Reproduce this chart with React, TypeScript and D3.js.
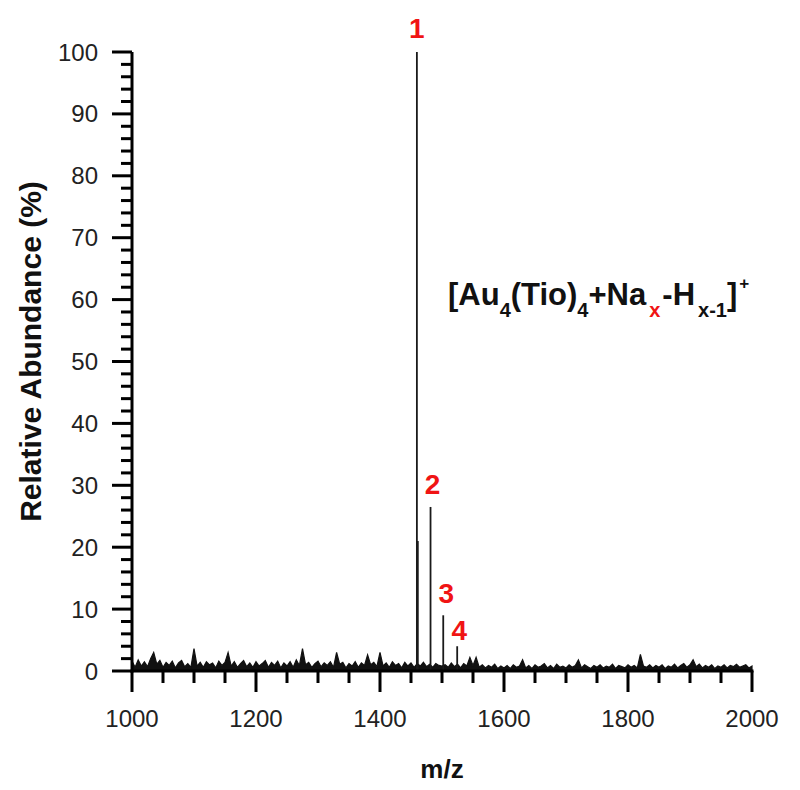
import React from 'react';
import * as d3 from 'd3';

const width = 800;
const height = 790;

// baseline noise, read every 5 m/z from 1000 to 2000
const noiseStart = 1000;
const noiseStep = 5;
const noise = [
  1.6, 0.6, 1.8, 0.8, 1.5, 0.7, 2.0, 3.0, 1.1, 1.7,
  0.6, 1.4, 0.9, 1.6, 0.5, 1.3, 1.7, 0.7, 1.2, 0.6,
  3.6, 0.8, 1.4, 0.6, 1.5, 1.0, 1.3, 0.5, 1.6, 0.9,
  1.4, 3.0, 0.8, 1.5, 0.6, 1.2, 1.7, 0.7, 1.3, 0.6,
  1.5, 0.8, 1.2, 1.7, 0.6, 1.4, 0.9, 1.6, 0.5, 1.3,
  0.8, 1.5, 0.6, 1.8, 0.9, 3.6, 1.0, 1.4, 0.6, 1.2,
  1.6, 0.7, 1.3, 0.9, 1.5, 0.6, 3.0, 1.1, 1.4, 0.5,
  1.2, 0.8, 1.5, 0.6, 1.3, 0.9, 2.6, 1.0, 1.4, 0.7,
  3.0, 0.8, 1.3, 0.6, 1.5, 0.9, 1.2, 0.5, 1.4, 0.8,
  1.3, 0.6, 1.2, 0.8, 1.4, 0.7, 1.1, 0.6, 1.2, 0.9,
  0.8, 1.0, 0.6, 1.3, 0.7, 1.1, 0.5, 1.2, 0.8, 2.2,
  0.9, 2.2, 0.6, 1.0, 0.5, 0.9, 0.6, 1.1, 0.4, 0.8,
  0.5, 0.9, 0.4, 1.0, 0.6, 0.8, 1.8, 0.5, 0.9, 0.4,
  1.0, 0.6, 0.8, 1.2, 0.5, 0.9, 0.4, 1.1, 0.6, 0.8,
  0.5, 1.0, 0.6, 0.9, 1.8, 0.5, 1.0, 0.7, 0.4, 0.9,
  0.6, 1.0, 0.5, 0.8, 0.6, 1.1, 0.4, 0.9, 0.7, 0.5,
  1.0, 0.6, 0.9, 0.5, 2.7, 0.8, 0.6, 1.0, 0.5, 0.9,
  0.6, 1.0, 0.4, 0.8, 0.6, 1.1, 0.5, 0.9, 1.2, 0.6,
  1.0, 1.8, 0.7, 1.1, 0.5, 0.9, 0.6, 1.0, 0.4, 0.8,
  0.6, 1.0, 0.5, 0.9, 0.7, 1.1, 0.6, 0.8, 1.0, 0.5,
  0.8,
];

// the labelled peaks
const peakMz = [1459.5, 1461, 1481.5, 1502, 1524.5];
const peakAbundance = [100, 21, 26.5, 9, 4];
const peakLabels = ['1', '', '2', '3', '4'];

const xTicks = [1000, 1200, 1400, 1600, 1800, 2000];
const yTicks = [0, 10, 20, 30, 40, 50, 60, 70, 80, 90, 100];

const font = "'Liberation Sans', Arial, sans-serif";
const red = '#f01414';

export default function App() {
  const margin = { top: 52, right: 48, bottom: 119, left: 132 };

  const x = d3.scaleLinear()
    .domain([1000, 2000])
    .range([margin.left, width - margin.right]);

  const y = d3.scaleLinear()
    .domain([0, 100])
    .range([height - margin.bottom, margin.top]);

  const noiseArea = d3.area<number>()
    .x((d, i) => x(noiseStart + i * noiseStep))
    .y0(y(0))
    .y1(d => y(d));

  const xMinor = d3.range(1000, 2001, 50).filter(v => v % 200 !== 0);
  const yMinor = d3.range(0, 101, 2).filter(v => v % 10 !== 0);

  // nudges for the peak numbers
  const labelShift = [[0, -14], [0, 0], [2, -13], [3, -12], [2, -6]];

  const y0 = y(0);
  const x0 = x(1000);

  return (
    <svg width={width} height={height} style={{ display: 'block', position: 'absolute', left: 0, top: 0 }}>
      <rect width={width} height={height} fill="#fff" />

      {/* spectrum */}
      <path d={noiseArea(noise) || ''} fill="#111" stroke="#111" strokeWidth={1.2} strokeLinejoin="miter" />
      {peakMz.map((m, i) => (
        <line key={'p' + i} x1={x(m)} x2={x(m)} y1={y0} y2={y(peakAbundance[i])} stroke="#1a1a1a" strokeWidth={1.8} />
      ))}
      {peakLabels.map((t, i) => t && (
        <text key={'l' + i} x={x(peakMz[i]) + labelShift[i][0]} y={y(peakAbundance[i]) + labelShift[i][1]}
          textAnchor="middle" fontFamily={font} fontWeight="bold" fontSize={28} fill={red}>{t}</text>
      ))}

      {/* axes */}
      <g stroke="#000" strokeWidth={3}>
        <line x1={x0} x2={x0} y1={y0 + 1.5} y2={y(100)} />
        <line x1={x0 - 1.5} x2={x(2000) + 1.5} y1={y0} y2={y0} />
        {yTicks.map(v => <line key={'ym' + v} x1={x0 - 20} x2={x0} y1={y(v)} y2={y(v)} />)}
        {yMinor.map(v => <line key={'yn' + v} x1={x0 - 11} x2={x0} y1={y(v)} y2={y(v)} />)}
        {xTicks.map(v => <line key={'xm' + v} x1={x(v)} x2={x(v)} y1={y0} y2={y0 + 21} />)}
        {xMinor.map(v => <line key={'xn' + v} x1={x(v)} x2={x(v)} y1={y0} y2={y0 + 12} />)}
      </g>
      <g fontFamily={font} fontSize={24} fill="#222">
        {yTicks.map(v => (
          <text key={'yt' + v} x={x0 - 34} y={y(v) + 8.5} textAnchor="end">{v}</text>
        ))}
        {xTicks.map(v => (
          <text key={'xt' + v} x={x(v)} y={y0 + 56} textAnchor="middle">{v}</text>
        ))}
      </g>

      <text transform={`translate(41,${(y(0) + y(100)) / 2 - 10}) rotate(-90)`} textAnchor="middle"
        fontFamily={font} fontWeight="bold" fontSize={30} fill="#111">Relative Abundance (%)</text>
      <text x={(x(1000) + x(2000)) / 2} y={778} textAnchor="middle"
        fontFamily={font} fontWeight="bold" fontSize={26} fill="#111">m/z</text>

      {/* formula */}
      <text x={448} y={305} fontFamily={font} fontWeight="bold" fontSize={31} fill="#111">
        <tspan>[Au</tspan>
        <tspan dy={12} fontSize={20}>4</tspan>
        <tspan dy={-12}>(Tio)</tspan>
        <tspan dy={12} fontSize={20}>4</tspan>
        <tspan dy={-12}>+Na</tspan>
        <tspan dy={12} dx={3} fontSize={20} fill={red}>x</tspan>
        <tspan dy={-12} dx={2}>-H</tspan>
        <tspan dy={12} dx={3} fontSize={20}>x-1</tspan>
        <tspan dy={-12}>]</tspan>
        <tspan dy={-16} dx={2} fontSize={17}>+</tspan>
      </text>
    </svg>
  );
}
